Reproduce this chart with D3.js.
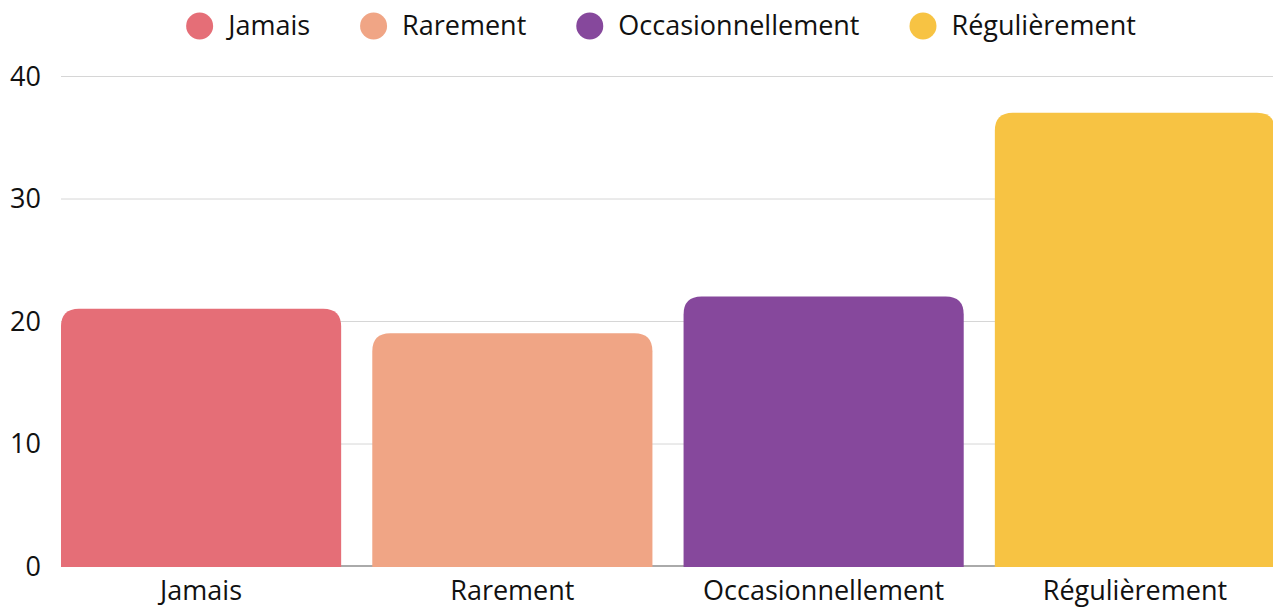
<!DOCTYPE html>
<html>
<head>
<meta charset="utf-8">
<script src="https://cdn.jsdelivr.net/npm/d3@7"></script>
<style>
  body { margin: 0; background: #fff; overflow: hidden; }
  text { font-family: "Open Sans", sans-serif; fill: #111; }
</style>
</head>
<body>
<div id="chart"></div>
<script>
const categories = ["Jamais", "Rarement", "Occasionnellement", "Régulièrement"];
const values = [21, 19, 22, 37];
const colors = ["#e56e77", "#f0a585", "#86489c", "#f7c343"];
const yTicks = [0, 10, 20, 30, 40];

const W = 1273, H = 608;
const margin = {top: 76, right: -2, bottom: 42, left: 61};
const fontSize = 27;

const svg = d3.select("#chart").append("svg")
    .attr("width", W)
    .attr("height", H);

const x = d3.scaleBand()
    .domain(categories)
    .range([margin.left, W - margin.right])
    .paddingInner(0.1)
    .paddingOuter(0);

const y = d3.scaleLinear()
    .domain([0, 40])
    .range([H - margin.bottom, margin.top]);

// gridlines
svg.append("g").selectAll("line")
    .data(yTicks.filter(d => d > 0))
    .join("line")
    .attr("x1", margin.left)
    .attr("x2", W)
    .attr("y1", d => y(d) + 0.5)
    .attr("y2", d => y(d) + 0.5)
    .attr("stroke", "#d6d6d6")
    .attr("stroke-width", 1);

// baseline
svg.append("line")
    .attr("x1", margin.left)
    .attr("x2", W)
    .attr("y1", y(0))
    .attr("y2", y(0))
    .attr("stroke", "#aaaaaa")
    .attr("stroke-width", 2);

// y labels
svg.append("g").selectAll("text")
    .data(yTicks)
    .join("text")
    .attr("x", 41)
    .attr("y", d => y(d))
    .attr("dy", "0.36em")
    .attr("text-anchor", "end")
    .style("font-size", fontSize + "px")
    .text(d => d);

// bars with rounded top corners
function topRounded(x0, y0, w, h, r) {
    r = Math.min(r, h, w / 2);
    return `M${x0},${y0 + h}V${y0 + r}Q${x0},${y0} ${x0 + r},${y0}` +
        `H${x0 + w - r}Q${x0 + w},${y0} ${x0 + w},${y0 + r}V${y0 + h}Z`;
}

svg.append("g").selectAll("path")
    .data(categories)
    .join("path")
    .attr("d", (c, i) => topRounded(x(c), y(values[i]), x.bandwidth(), y(0) - y(values[i]) + 1, 18))
    .attr("fill", (c, i) => colors[i]);

// x labels
svg.append("g").selectAll("text")
    .data(categories)
    .join("text")
    .attr("x", c => x(c) + x.bandwidth() / 2)
    .attr("y", 600)
    .attr("text-anchor", "middle")
    .style("font-size", fontSize + "px")
    .text(c => c);

// legend
const legend = svg.append("g");
const items = legend.selectAll("g")
    .data(categories)
    .join("g");
items.append("circle")
    .attr("r", 13.5)
    .attr("cx", 13.5)
    .attr("cy", 26)
    .attr("fill", (c, i) => colors[i]);
items.append("text")
    .attr("x", 42)
    .attr("y", 35)
    .style("font-size", fontSize + "px")
    .text(c => c);

let offset = 0;
const gap = 50;
items.each(function () {
    const g = d3.select(this);
    const tw = g.select("text").node().getComputedTextLength();
    g.attr("transform", `translate(${offset},0)`);
    offset += 42 + tw + gap;
});
const totalW = offset - gap;
legend.attr("transform", `translate(${661 - totalW / 2},0)`);
</script>
</body>
</html>
